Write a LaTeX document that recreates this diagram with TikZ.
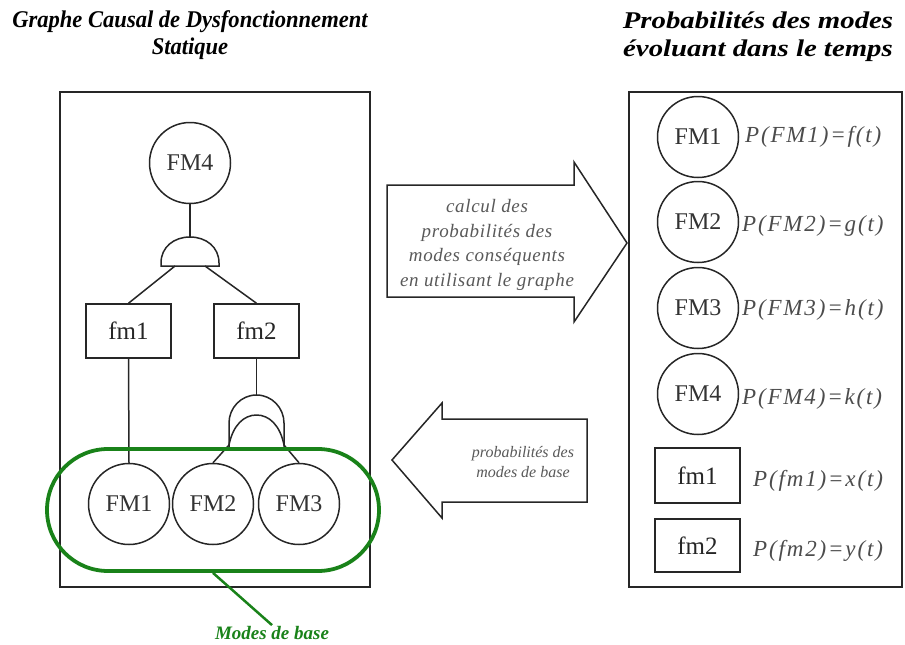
\documentclass[tikz,border=0pt]{standalone}
\usepackage{fontspec}
\setmainfont{Liberation Serif}
\definecolor{basegreen}{RGB}{25,130,25}
\begin{document}
\begin{tikzpicture}[x=1pt,y=-1pt,
  line/.style={line width=1.5pt, draw=black!85},
  circ/.style={circle, draw=black!85, line width=1.5pt, minimum size=81pt, inner sep=0pt,
    font=\fontsize{24}{26}\selectfont, text=black!80},
  sq/.style={rectangle, draw=black!85, line width=1.5pt, minimum width=85pt, minimum height=54pt,
    inner sep=0pt, font=\fontsize{25}{27}\selectfont, text=black!85},
  lbl/.style={anchor=west, inner sep=0pt, font=\fontsize{23}{25}\selectfont\itshape\addfontfeatures{LetterSpace=8}, text=black!70},
  arrtxt/.style={align=center, text=black!65},
  ttl/.style={align=center, inner sep=0pt, text=black}
]
\useasboundingbox (0,0) rectangle (905,645);

% titles
\node[ttl] (t1) at (190,36) {\scalebox{0.94}[1]{\fontsize{24}{27}\selectfont\bfseries\itshape\begin{tabular}{c}Graphe Causal de Dysfonctionnement\\Statique\end{tabular}}};
\node[ttl] (t2) at (758,37) {\scalebox{1.2}[1]{\fontsize{24}{28}\selectfont\bfseries\itshape\begin{tabular}{c}Probabilités des modes\\évoluant dans le temps\end{tabular}}};

% frames
\draw[line] (60,92) rectangle (370,587);
\draw[line] (629,92) rectangle (902,587);

% left graph
\node[circ] (fm4) at (190,163) {FM4};
\coordinate (andtop) at (190,237);
\coordinate (andL) at (175,266);
\coordinate (andR) at (205,266);
\draw[line] (fm4) -- (andtop);
\draw[line] (161,266) -- (161,263) .. controls (161,247) and (174,237) .. (andtop)
  .. controls (206,237) and (219,247) .. (219,263) -- (219,266) -- cycle;

\node[sq] (fa) at (128.5,331) {fm1};
\node[sq] (fb) at (256.5,331) {fm2};
\draw[line] (andL) -- (fa.north);
\draw[line] (andR) -- (fb.north);

\node[circ] (b1) at (129,504) {FM1};
\node[circ] (b2) at (213,504) {FM2};
\node[circ] (b3) at (299,504) {FM3};
\draw[line] (fa.south) -- (b1.north);

\coordinate (ortop) at (256.5,395);
\draw[line] (fb.south) -- (ortop);
\draw[line] (229,447) -- (229,423) .. controls (229,408) and (241,395) .. (ortop)
  .. controls (272,395) and (284,408) .. (284,423) -- (284,447);
\draw[line] (b2.north) -- (229,445) .. controls (233,425) and (244,415) .. (256.5,415)
  .. controls (269,415) and (280,425) .. (284,445) -- (b3.north);

% base modes group
\node[draw=basegreen, line width=3.8pt, rounded corners=61pt, minimum width=332pt,
  minimum height=122pt, inner sep=0pt] (base) at (213,510) {};
\node[inner sep=1pt, font=\fontsize{19}{20}\selectfont\bfseries\itshape, text=basegreen]
  (mlbl) at (272,633) {Modes de base};
\draw[basegreen, line width=2.5pt] (base.south) -- (mlbl.north);

% arrows
\draw[line] (387,185) -- (574,185) -- (574,162) -- (627,243) -- (574,322) -- (574,297) -- (387,297) -- cycle;
\node[arrtxt, font=\fontsize{19}{24.5}\selectfont\itshape\addfontfeatures{LetterSpace=3.5}] (calc) at (487,245)
  {calcul des\\probabilités des\\modes conséquents\\en utilisant le graphe};
\draw[line] (587,419) -- (442,419) -- (442,403) -- (392,460) -- (442,518) -- (442,502) -- (587,502) -- cycle;
\node[arrtxt, font=\fontsize{16}{20}\selectfont\itshape] (probb) at (523,462)
  {probabilités des\\modes de base};

% right column
\node[circ] (r1) at (698,137) {FM1};
\node[circ] (r2) at (698,222) {FM2};
\node[circ] (r3) at (698,308) {FM3};
\node[circ] (r4) at (698,394) {FM4};
\node[sq, minimum height=55pt] (r5) at (697.5,475.5) {fm1};
\node[sq, minimum height=53pt] (r6) at (697.5,545.5) {fm2};
\node[lbl] (p1) at (745,137) {P(FM1)=f(t)};
\node[lbl] (p2) at (742,226) {P(FM2)=g(t)};
\node[lbl] (p3) at (742,310) {P(FM3)=h(t)};
\node[lbl] (p4) at (742,399) {P(FM4)=k(t)};
\node[lbl] (p5) at (753,481) {P(fm1)=x(t)};
\node[lbl] (p6) at (753,551) {P(fm2)=y(t)};
\end{tikzpicture}
\end{document}
